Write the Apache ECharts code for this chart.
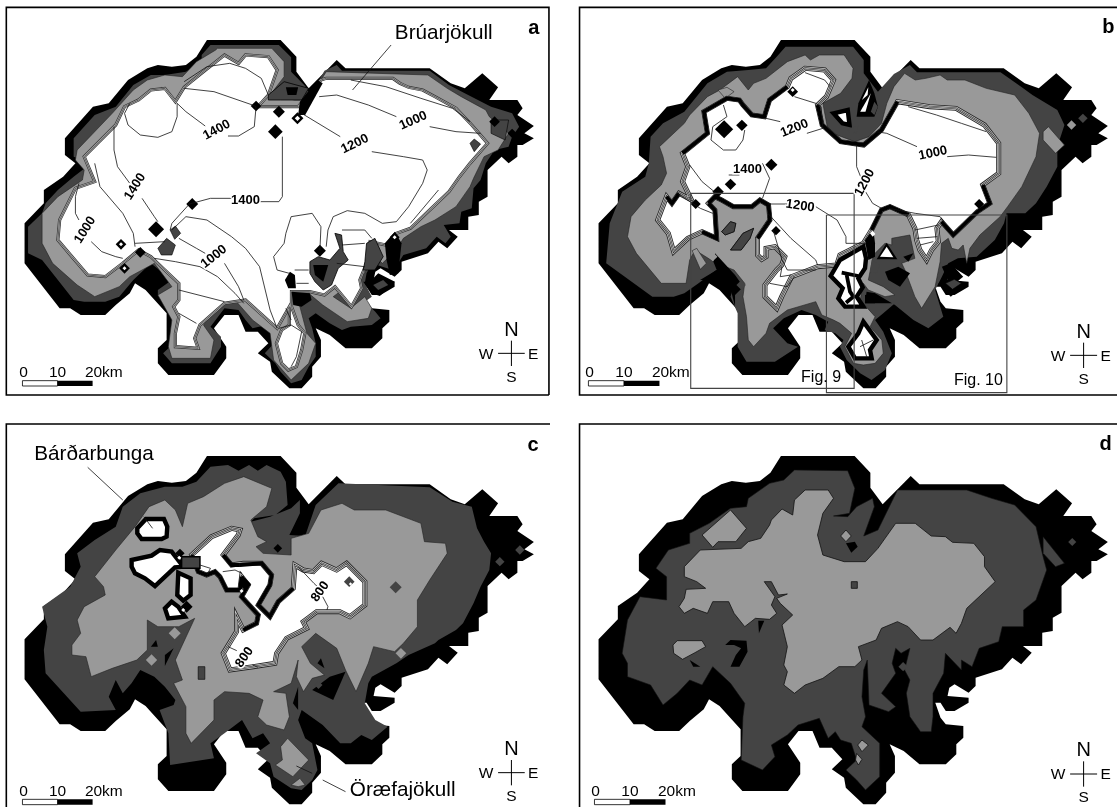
<!DOCTYPE html>
<html><head><meta charset="utf-8">
<script src="https://cdn.jsdelivr.net/npm/echarts@6/dist/echarts.min.js"></script>
<style>html,body{margin:0;padding:0;background:#fff}#c{width:1117px;height:807px}</style></head>
<body><div id="c"></div>
<script>
const BLACK='#000',DARK='#444',MID='#999',WHITE='#fff';
const outerIce=[[590,120],[800,120],[845,170],[845,215],[880,265],[960,180],[985,205],[1225,205],[1285,250],[1325,265],[1375,220],[1420,262],[1395,300],[1475,300],[1490,325],[1475,345],[1522,378],[1495,400],[1522,415],[1490,435],[1475,435],[1475,470],[1450,490],[1430,470],[1390,510],[1390,590],[1365,605],[1365,645],[1335,650],[1335,690],[1280,690],[1305,710],[1275,745],[1250,725],[1220,760],[1145,785],[1145,810],[1125,830],[1085,805],[1070,815],[1065,840],[1125,845],[1125,860],[1085,885],[1060,885],[1045,860],[1030,860],[1045,905],[1060,925],[1110,930],[1110,965],[1090,985],[1090,1015],[1060,1045],[985,1045],[940,1005],[900,985],[915,1020],[915,1070],[890,1100],[890,1130],[860,1165],[825,1165],[775,1115],[770,1085],[735,1060],[765,1030],[735,995],[700,995],[680,945],[640,945],[610,985],[645,1040],[645,1075],[610,1125],[480,1125],[450,1090],[450,1045],[475,1020],[475,940],[415,870],[385,850],[370,880],[330,915],[300,945],[230,945],[200,925],[170,925],[70,790],[70,670],[125,610],[125,570],[180,530],[215,490],[185,465],[185,415],[265,320],[310,310],[365,240],[420,205],[450,195],[490,200],[530,195],[560,170]];

// panel a
const aDark=[[600,135],[795,135],[830,172],[830,215],[870,258],[885,285],[925,212],[960,195],[975,212],[1225,212],[1280,255],[1325,280],[1400,320],[1460,340],[1480,380],[1460,410],[1450,440],[1410,450],[1385,490],[1370,540],[1350,565],[1345,625],[1315,635],[1310,670],[1265,675],[1285,710],[1270,730],[1245,710],[1215,745],[1150,765],[1135,790],[1120,810],[1090,800],[1060,790],[1045,820],[1040,850],[1060,890],[1040,905],[1070,935],[1085,955],[1060,975],[1000,980],[975,990],[940,970],[900,940],[880,955],[890,985],[900,1030],[900,1070],[880,1100],[860,1140],[830,1150],[800,1115],[785,1090],[755,1060],[790,1020],[760,975],[720,985],[700,960],[680,930],[640,925],[600,980],[630,1010],[630,1040],[600,1090],[490,1090],[465,1060],[490,1035],[490,920],[450,885],[450,870],[490,840],[430,790],[380,840],[340,890],[300,905],[240,905],[210,900],[120,780],[80,760],[80,680],[120,640],[130,610],[165,570],[210,530],[260,490],[210,470],[210,415],[270,345],[330,320],[380,255],[430,225],[470,225],[530,215],[575,185],[575,165]];
const aMid=[[620,145],[775,145],[810,185],[810,230],[770,285],[840,300],[880,300],[930,215],[1220,225],[1275,265],[1315,290],[1385,330],[1395,350],[1450,400],[1420,450],[1380,470],[1350,535],[1340,560],[1300,620],[1240,660],[1200,680],[1150,715],[1130,750],[1090,790],[1060,760],[1040,820],[950,890],[1000,925],[1040,890],[1060,925],[1050,955],[990,965],[920,915],[880,880],[850,900],[875,1000],[900,1030],[880,1090],[830,1140],[780,1080],[770,1000],[720,960],[670,900],[620,920],[580,975],[610,1020],[600,1075],[490,1075],[480,1040],[490,960],[450,885],[490,860],[440,790],[370,830],[340,860],[270,890],[220,855],[150,790],[120,730],[120,640],[165,590],[235,540],[240,510],[215,480],[220,450],[320,340],[380,270],[420,240],[470,225],[520,230],[560,185],[615,150]];
const aWhite=[[525,262],[580,215],[640,165],[680,190],[700,165],[765,170],[790,210],[765,285],[735,320],[770,320],[850,320],[915,240],[930,235],[1120,235],[1140,250],[1165,262],[1205,270],[1240,290],[1300,325],[1345,375],[1390,430],[1340,490],[1310,530],[1280,575],[1240,615],[1170,685],[1130,700],[1100,735],[1055,725],[1045,790],[1026,840],[1031,865],[1002,920],[955,860],[925,885],[883,875],[831,875],[831,920],[850,975],[869,1000],[860,1050],[845,1100],[822,1110],[803,1090],[788,1030],[803,990],[825,975],[825,920],[790,985],[700,900],[640,910],[570,975],[555,1015],[565,1045],[500,1040],[500,1000],[510,950],[495,920],[510,900],[510,850],[450,790],[430,770],[395,750],[350,790],[300,830],[250,825],[205,770],[165,720],[170,660],[215,565],[270,545],[240,470],[330,375],[355,320],[395,300],[430,270],[470,265],[500,305]];
const aDiagonal=[[855,305],[905,240],[920,250],[870,345],[850,345]];
const aNorthDark=[[765,285],[810,245],[880,265],[860,300],[800,300],[765,300]];
const aNorthBlack=[[[815,262],[850,262],[845,285],[820,285]]];
const aNotches=[[[460,260],[500,300],[490,310],[465,275]],[[360,320],[395,295],[390,335]]];
// south-east crop traces
const aSeBlack=[[[90,185],[105,195],[108,235],[85,235],[75,210]],[[95,245],[150,250],[155,270],[125,290],[100,285]],[[330,215],[355,190],[405,215],[360,258],[335,250],[310,215]],[[375,100],[405,65],[425,100],[415,190],[390,195],[380,150]],[[160,165],[205,165],[190,215],[165,195]]];
const aSeDark=[[[150,155],[175,140],[210,150],[240,115],[225,70],[245,75],[250,125],[265,150],[235,175],[215,225],[190,240],[165,215],[150,190]],[[320,100],[345,85],[370,140],[345,180],[310,180],[315,155]]];
const aSeInner=[[[340,225],[370,210],[385,225],[355,240]]];
const aDarkBits=[[[450,745],[475,715],[500,735],[490,765],[460,765]],[[485,690],[500,678],[515,700],[498,718]],[[1340,430],[1352,417],[1370,432],[1352,455]],[[1400,360],[1450,360],[1440,420],[1400,400]]];
const aDiamonds=[[795,335,18,BLACK],[785,395,22,BLACK],[548,612,18,BLACK],[912,752,18,BLACK],[730,318,16,BLACK],[848,355,18,BLACK],[1125,712,15,BLACK],[345,733,16,BLACK],[400,757,16,BLACK],[355,805,16,BLACK],[445,688,24,BLACK],[1410,365,16,BLACK],[1460,400,14,BLACK],[848,355,8,WHITE],[345,733,6,WHITE],[1125,712,6,WHITE],[355,805,6,WHITE]];
const aLines=[[[525,265],[610,275],[720,315],[730,320],[725,380],[680,408],[650,408]],[[585,378],[530,335],[505,310],[505,350],[490,395],[450,412],[400,405],[365,375],[355,340],[370,310]],[[525,245],[590,200],[655,190],[700,205],[745,235],[765,285]],[[325,380],[325,450],[335,500],[370,550]],[[405,595],[440,650],[450,665]],[[270,490],[285,560],[350,640],[380,700],[385,740]],[[225,550],[215,590],[215,640],[225,660]],[[260,725],[290,755],[330,770],[350,775]],[[540,612],[600,595],[660,595]],[[740,605],[795,605],[805,590],[805,410]],[[540,612],[490,670],[485,690]],[[490,690],[530,650],[590,660],[660,710],[700,745],[740,800],[770,930],[790,985]],[[510,715],[560,745],[585,760]],[[640,790],[680,860],[695,900]],[[440,775],[500,785],[570,800],[620,830],[670,880],[695,910]],[[385,730],[470,725]],[[510,870],[640,905]],[[510,940],[560,970]],[[860,340],[970,410]],[[1060,455],[1150,470],[1205,480],[1218,510],[1205,550],[1165,620],[1130,665],[1090,670],[1040,640],[990,632],[950,650],[935,690],[930,740]],[[910,290],[960,285],[1050,315],[1130,350]],[[1225,380],[1300,395],[1370,400]],[[1000,240],[1100,260],[1200,295],[1290,325],[1340,365]],[[912,752],[915,680],[890,640],[830,650],[815,700],[810,730],[780,770],[790,810],[825,820]],[[975,690],[1040,690],[1060,715]],[[975,735],[1040,730]],[[960,790],[1040,800]],[[795,985],[830,975],[860,995],[845,1070],[830,1100]],[[815,925],[830,960]],[[840,810],[880,810]],[[845,850],[880,850]],[[1250,570],[1170,670]]];
const aLeader=[[1115,135],[1005,270]];
const aContourLabels=[['1400',618,390,-28],['1400',385,560,-58],['1400',700,600,0],['1000',243,690,-58],['1000',610,770,-38],['1000',1178,362,-24],['1200',1012,432,-26]];

// panel b
const bDark=[[635,140],[825,140],[855,180],[855,220],[895,275],[940,222],[985,195],[1005,217],[1240,217],[1300,262],[1330,285],[1400,330],[1420,375],[1400,440],[1400,500],[1370,560],[1340,610],[1310,640],[1257,640],[1250,670],[1224,720],[1173,770],[1120,775],[1093,790],[1075,830],[1056,870],[1079,950],[1037,985],[995,960],[943,915],[887,880],[863,875],[859,910],[943,910],[910,940],[887,960],[910,995],[934,1060],[915,1110],[877,1140],[845,1120],[807,1080],[788,1040],[798,1020],[775,1000],[745,990],[755,965],[720,945],[680,930],[630,955],[600,985],[640,1030],[670,1040],[605,1085],[525,1085],[500,1040],[500,940],[480,890],[490,855],[440,810],[390,850],[350,880],[320,890],[260,890],[130,790],[140,670],[175,575],[240,530],[250,490],[255,410],[290,370],[350,335],[415,250],[470,215],[530,210],[580,205],[610,170]];
const bMid=[[640,185],[690,165],[705,180],[730,165],[800,165],[825,205],[822,235],[790,280],[740,310],[755,395],[830,425],[870,410],[905,370],[920,310],[940,260],[970,220],[1000,240],[1030,235],[1070,225],[1090,240],[1140,240],[1200,265],[1280,285],[1320,340],[1350,400],[1340,470],[1300,560],[1260,620],[1239,650],[1182,705],[1154,745],[1145,790],[1135,735],[1121,750],[1103,745],[1093,715],[1074,730],[1070,785],[1056,860],[1018,925],[999,890],[971,810],[962,790],[999,775],[985,705],[934,715],[934,735],[915,730],[882,765],[868,840],[910,860],[943,885],[915,890],[868,870],[854,850],[845,900],[887,950],[873,980],[906,1020],[910,1060],[887,1090],[854,1095],[826,1090],[802,1040],[821,1000],[788,970],[770,960],[737,945],[720,905],[640,930],[590,970],[580,1000],[545,1040],[530,1020],[525,950],[515,890],[520,850],[490,810],[440,790],[380,750],[365,780],[355,850],[285,850],[215,760],[190,710],[200,650],[240,600],[285,555],[300,520],[290,470],[280,440],[350,370],[365,345],[415,290],[450,270],[500,230],[530,270],[545,250],[580,235]];
const bWhite=[[405,335],[470,295],[505,300],[515,315],[540,345],[575,350],[590,300],[640,260],[650,235],[690,205],[745,210],[770,240],[750,290],[725,315],[738,375],[790,425],[855,435],[905,390],[950,305],[1040,320],[1115,325],[1195,375],[1235,430],[1235,520],[1190,555],[1210,610],[1175,635],[1107,705],[1074,665],[1061,685],[1065,725],[1046,750],[1032,780],[1013,750],[1004,720],[999,685],[981,645],[929,620],[905,630],[877,690],[854,730],[788,765],[779,795],[725,800],[652,830],[624,890],[610,925],[577,890],[577,855],[610,810],[624,795],[633,770],[605,740],[580,745],[580,770],[568,778],[556,765],[556,715],[591,660],[587,615],[563,600],[540,620],[488,620],[455,600],[436,590],[418,610],[436,630],[441,715],[400,695],[360,715],[320,755],[305,700],[275,660],[300,590],[315,610],[335,580],[370,600],[345,545],[360,500],[345,460],[415,400]];
const bThick=[[[345,460],[415,400],[405,335],[470,295],[505,300],[515,315],[540,345],[575,350],[590,300],[640,260]],[[725,315],[738,375],[790,425],[855,435],[905,390],[950,305]],[[418,610],[436,590],[455,600],[488,620],[540,620],[563,600],[587,615],[591,660],[556,715]],[[418,610],[436,630],[441,715],[400,695]],[[1190,555],[1210,610],[1175,635],[1107,705],[1074,665]],[[877,690],[905,630],[929,620],[981,645]],[[300,590],[315,610],[335,580]]];
const bEast=[[[770,340],[810,330],[815,375],[795,370]]];
const bEastBlack=[[[835,350],[840,310],[870,240],[885,280],[895,320],[885,350]]];
const bEastWhite=[[[845,335],[875,280],[860,335]],[[850,300],[868,262],[866,285]]];
const bEastDark=[[[885,305],[895,320],[885,345],[875,335]],[[805,390],[840,375],[835,400]]];
// traces from the crop around the south-east quarter of panel b
const bSeChain=[[60,180],[130,140],[138,175],[135,205],[115,235],[128,262],[110,290],[130,320],[75,320],[55,295],[68,265],[32,228]];
const bSeChainInner=[[[65,218],[115,228]],[[80,225],[90,275],[100,290],[78,308]]];
const bSeRing=[[130,365],[170,420],[150,450],[155,475],[105,475],[85,440],[115,400]];
const bSeBlack=[[[150,100],[135,120],[145,180],[165,170],[165,130],[162,105]],[[170,178],[200,128],[232,178]],[[195,215],[235,200],[270,220],[240,260],[205,240]],[[250,170],[280,160],[265,185]],[[135,285],[165,280],[165,310],[135,310]]];
const bSeDark=[[[155,180],[180,195],[170,220],[150,215]]];
const bSeWhite=[[[180,170],[200,140],[220,172]],[[150,100],[158,92],[166,102],[158,110]]];
const bSeLines=[[[285,90],[355,75]],[[290,115],[352,110]],[[300,135],[340,125]],[[120,440],[160,420]],[[140,470],[125,420]]];
const bBlackWedge=[[[105,190],[165,255],[190,290],[165,315],[165,350],[150,290],[80,270],[60,270],[110,240],[100,215]]];
const bDarkBits=[[[455,695],[480,665],[495,670],[490,695],[465,705]],[[480,750],[515,700],[545,685],[535,715],[510,750]],[[1085,850],[1110,838],[1130,850],[1105,868]]];
const bIslands=[[[1065,850],[1100,835],[1145,850],[1100,890]],[[1075,800],[1100,790],[1135,830],[1100,860]]];
const bMidBits=[[[1360,395],[1375,380],[1420,435],[1395,460],[1360,420]],[[445,270],[470,262],[490,275],[465,295]],[[372,752],[385,745],[412,790],[395,808]]];
const bDiamonds=[[462,388,27,BLACK],[512,376,17,BLACK],[595,494,18,BLACK],[480,553,17,BLACK],[445,575,17,BLACK],[382,612,15,BLACK],[608,692,14,BLACK],[1180,612,15,BLACK],[655,275,16,BLACK],[655,270,6,WHITE],[510,855,14,DARK],[820,395,10,DARK],[1440,375,14,MID],[1472,355,14,DARK],[430,770,14,MID]];
const bLines=[[[460,315],[470,350],[430,380],[425,420],[460,450],[495,450],[515,420],[520,390]],[[580,355],[620,365]],[[695,400],[740,385]],[[660,290],[720,310],[735,320],[740,385]],[[690,218],[745,240],[760,260]],[[890,395],[920,400],[1005,440]],[[1090,470],[1150,465],[1228,472]],[[980,320],[1060,345],[1130,370],[1200,395]],[[835,435],[835,500],[850,540]],[[860,575],[880,610],[905,625]],[[570,490],[590,535],[570,595]],[[475,525],[505,525]],[[365,495],[400,545],[440,580]],[[330,580],[395,625],[430,640]],[[585,612],[640,612]],[[720,620],[780,660],[805,710],[805,730],[860,730]],[[585,640],[650,715],[720,780],[725,795]],[[600,690],[625,780],[640,810],[720,810]],[[925,625],[1000,640],[1070,650],[1080,665]],[[625,800],[620,830],[650,825]],[[590,850],[640,860],[660,830]]];
const bFig9=[[368,580],[828,580],[828,1165],[368,1165],[368,580]];
const bFig10=[[750,645],[1258,645],[1258,1178],[750,1178],[750,645]];
const bContourLabels=[['1200',660,385,-22],['1000',1050,460,-12],['1400',528,508,0],['1200',858,548,-62],['1200',676,618,8]];

// panel c
const cDark=[[350,290],[400,250],[470,230],[520,230],[560,215],[600,170],[650,165],[680,182],[710,165],[735,182],[760,165],[800,185],[815,215],[820,285],[785,315],[725,325],[715,335],[770,320],[830,295],[855,270],[855,310],[825,375],[870,378],[900,285],[965,220],[1225,232],[1290,275],[1345,290],[1360,355],[1380,395],[1400,430],[1395,480],[1370,530],[1350,580],[1320,640],[1300,660],[1250,690],[1240,700],[1165,735],[1130,760],[1060,800],[1050,820],[1040,880],[1070,930],[1105,950],[1060,990],[1030,975],[1000,1000],[970,1000],[920,945],[860,900],[850,930],[870,985],[890,1000],[905,1080],[890,1110],[860,1140],[830,1135],[780,1100],[770,1060],[730,1030],[770,1000],[750,970],[720,985],[690,930],[640,970],[600,1000],[610,1045],[485,1065],[480,970],[455,900],[495,885],[500,870],[470,830],[440,800],[400,780],[375,820],[350,850],[330,810],[310,860],[330,900],[230,905],[130,790],[125,720],[135,650],[120,590],[200,530],[230,470],[220,430],[270,390],[330,350]];
const cMid=[[535,280],[580,260],[640,220],[695,200],[775,235],[760,290],[715,330],[735,380],[760,395],[730,410],[750,430],[830,435],[830,385],[880,370],[915,300],[975,280],[1010,300],[1100,300],[1200,340],[1210,395],[1270,400],[1275,430],[1225,510],[1190,570],[1190,650],[1150,700],[1125,725],[1065,710],[1050,760],[1015,845],[985,780],[960,715],[900,670],[860,710],[885,760],[925,795],[890,805],[865,845],[845,800],[850,750],[830,820],[780,845],[815,850],[825,920],[810,960],[760,945],[735,920],[750,870],[710,850],[640,845],[610,870],[610,930],[545,1000],[530,970],[530,890],[495,820],[520,810],[500,750],[555,625],[510,650],[450,650],[420,630],[420,720],[390,750],[320,775],[260,800],[245,740],[205,735],[205,705],[230,670],[220,630],[240,590],[300,555],[295,530],[270,500],[330,420],[385,350],[425,290],[470,270],[500,300],[520,350]];
const cMidBits=[[[820,985],[880,1050],[835,1100],[785,1065],[805,1050],[800,1010]],[[830,1125],[855,1105],[870,1125],[850,1130]]];
// traces from the crop around the central white basin of panel c
const cRing1=[[52,55],[78,27],[132,27],[142,50],[140,80],[125,87],[65,87],[52,70]];
const cRing2=[[35,150],[95,137],[120,120],[155,125],[190,170],[165,172],[105,228],[75,205],[45,190],[35,170]];
const cRing3=[[175,188],[212,205],[212,255],[190,272],[172,255]];
const cRing4=[[135,295],[155,275],[175,290],[195,320],[145,325]];
const cBasin=[[215,135],[275,80],[335,55],[360,60],[355,75],[310,135],[335,165],[370,160],[425,160],[455,195],[450,225],[415,285],[450,320],[475,275],[520,235],[525,165],[550,180],[580,185],[605,160],[650,180],[680,160],[735,215],[735,285],[690,320],[660,305],[590,305],[550,335],[560,355],[500,385],[470,430],[465,460],[400,470],[330,480],[310,430],[350,365],[350,320],[370,360],[410,340],[415,315],[365,260],[385,225],[365,200],[360,240],[320,240],[300,200],[285,185],[260,195],[235,185]];
const cThick=[[[365,200],[385,225],[365,260],[415,315],[410,340],[370,360]],[[360,165],[425,160],[455,195],[450,225],[415,285],[450,320],[475,275],[520,235]],[[310,135],[335,165],[360,165]],[[300,200],[320,240],[360,240],[365,200]],[[215,135],[235,185],[260,195],[285,185],[300,200]]];
const cStack=[[[185,140],[240,140],[240,175],[185,175]]];
const cCropDia=[[180,130,14,BLACK],[178,143,6,WHITE],[375,222,18,BLACK],[365,243,6,WHITE],[200,290,18,BLACK],[190,300,6,WHITE],[688,215,16,DARK],[692,222,5,WHITE]];
const cBlackBits=[[[890,840],[940,800],[985,785],[950,870]],[[470,735],[495,715],[470,768]],[[430,710],[445,690],[450,710]],[[835,880],[850,830],[850,900]],[[905,760],[915,745],[925,775]]];
const cDarkBits=[[[565,770],[584,770],[584,808],[565,808]]];
const cDiamonds=[[498,670,18,MID],[432,750,17,MID],[1128,532,18,DARK],[792,415,13,BLACK],[1425,455,14,DARK],[1482,420,14,DARK],[908,825,12,DARK],[1143,730,16,MID]];
const cLines=[[[850,470],[895,520],[910,535]],[[920,560],[935,590],[932,600]],[[650,710],[675,722]],[[720,765],[735,772]],[[635,485],[670,480],[690,490]],[[570,465],[600,475],[590,495]],[[410,320],[435,355]]];
const cLeader1=[[250,172],[350,270]];
const cLeader2=[[920,1110],[985,1145]];
const cLeader3=[[845,1068],[890,1090]];
const cContourLabels=[['800',913,545,-55],['800',697,742,-55]];

// panel d
const dDark=[[660,180],[810,182],[830,235],[815,310],[770,318],[810,320],[835,290],[880,265],[885,290],[855,378],[895,360],[950,240],[1145,240],[1215,265],[1280,285],[1340,350],[1360,440],[1370,480],[1340,570],[1305,600],[1305,650],[1245,650],[1235,695],[1180,715],[1160,770],[1130,750],[1130,780],[1085,730],[1080,790],[1050,850],[1050,920],[1045,965],[1015,965],[985,920],[975,850],[985,810],[970,780],[985,715],[960,730],[945,715],[935,760],[945,790],[905,850],[945,890],[925,905],[870,885],[865,750],[855,780],[850,860],[860,920],[850,950],[900,1000],[900,1100],[860,1140],[835,1110],[805,1080],[835,1050],[820,1000],[790,990],[775,965],[755,985],[730,925],[670,945],[640,975],[595,1005],[605,1040],[570,1080],[540,1065],[510,1050],[515,920],[520,880],[480,820],[430,770],[400,825],[365,810],[330,850],[290,885],[255,825],[190,800],[190,760],[175,730],[190,630],[225,560],[300,570],[300,500],[270,475],[305,420],[365,400],[365,370],[420,340],[480,295],[525,290],[530,265],[590,220],[630,210]];
const dMid=[[690,240],[755,240],[770,265],[740,310],[725,375],[740,435],[800,455],[860,455],[895,415],[945,340],[1000,340],[1045,378],[1085,380],[1105,397],[1165,400],[1195,440],[1195,470],[1225,515],[1145,595],[1130,640],[1115,670],[1098,652],[1050,690],[1015,690],[980,650],[950,635],[905,655],[890,690],[840,710],[850,750],[830,770],[785,770],[740,805],[690,825],[660,850],[630,825],[640,785],[630,765],[640,710],[625,645],[655,615],[620,580],[610,565],[640,552],[615,555],[595,515],[575,515],[605,560],[595,585],[610,610],[590,628],[550,625],[520,650],[490,610],[475,575],[430,575],[415,610],[375,595],[350,610],[335,590],[350,565],[355,538],[410,535],[385,515],[350,500],[350,470],[395,420],[510,415],[530,395],[565,385],[590,345],[595,330],[625,297],[655,315],[660,270]];
const dMidBits=[[[400,375],[480,300],[525,355],[495,395],[445,395],[430,412]],[[318,705],[330,692],[400,692],[410,710],[380,728],[345,748],[320,730]],[[790,378],[805,360],[820,378],[805,395]],[[850,990],[868,1005],[850,1025],[838,1005]],[[835,1030],[850,1048],[840,1065],[832,1050]]];
const dEastStrip=[[1360,380],[1420,460],[1395,470],[1360,430]];
const dBlackBits=[[[805,400],[830,395],[838,410],[820,428]],[[465,705],[480,690],[525,692],[528,725],[505,770],[480,770],[495,735],[510,715],[490,705]],[[365,750],[395,770],[375,770]],[[558,632],[575,632],[560,670]]];
const dDarkBits=[[[820,515],[837,515],[837,535],[820,535]]];
const dDiamonds=[[1442,396,12,DARK],[966,770,14,DARK]];

const scaleTicks=['0','10','20km'];
const compass=['N','W','E','S'];

const panels=[
 {id:'a',left:0,top:0,width:550,height:400,xMax:1568,yMax:1200},
 {id:'b',left:560,top:0,width:557,height:400,xMax:1568,yMax:1200},
 {id:'c',left:0,top:410,width:550,height:397,xMax:1568,yMax:1191},
 {id:'d',left:560,top:410,width:557,height:397,xMax:1568,yMax:1191}
];
const toB=p=>[(p[0]/2.851+14)*2.815,p[1]];
const toC=p=>[p[0],p[1]+18];
const toD=p=>[(p[0]/2.851+14)*2.815,p[1]+18];
const aSe=p=>[741+.95*p[0],630+p[1]];
const bSe=p=>[732+.938*p[0],600+p[1]];
const bNw=p=>[338+.938*p[0],570+p[1]];
const cCe=p=>[342+.95*p[0],300+p[1]];

function poly(pts,fill,stroke,lw){return {k:'poly',pts,fill,stroke,lw};}
function line(pts,color,lw){return {k:'line',pts,color,lw};}
function txt(t,x,y,size,opt){return Object.assign({k:'text',t,x,y,size},opt||{});}
function dia(d){const [x,y,r,f]=d;return poly([[x,y-r],[x+r*.95,y],[x,y+r],[x-r*.95,y]],f);}
function striped(pts,layers){return layers.map((l,i)=>poly(pts,i?null:WHITE,l[0],l[1]));}
function labels(arr){return arr.map(l=>txt(l[0],l[1],l[2],13,{rotate:l[3],halo:true,weight:'bold'}));}
function frame(x0,y0,x1,y1){return line([[x1,y1],[x1,y0],[x0,y0],[x0,y1],[x1,y1]],'#000',1.6);}
function furniture(o){
 const f=[];
 const sy=o.sy,bx=o.bx;
 f.push(poly([[bx,sy],[bx+100,sy],[bx+100,sy+16],[bx,sy+16]],WHITE,'#000',.8));
 f.push(poly([[bx+100,sy],[bx+200,sy],[bx+200,sy+16],[bx+100,sy+16]],BLACK));
 f.push(txt(scaleTicks[0],bx+3,sy-24,15.5));
 f.push(txt(scaleTicks[1],bx+100,sy-24,15.5));
 f.push(txt(scaleTicks[2],bx+232,sy-24,15.5));
 const cx=o.cx,cy=o.cy;
 f.push(line([[cx,cy-38],[cx,cy+38]],'#000',1));
 f.push(line([[cx-38,cy],[cx+38,cy]],'#000',1));
 f.push(txt(compass[0],cx,cy-70,20));
 f.push(txt(compass[1],cx-72,cy+3,15.5));
 f.push(txt(compass[2],cx+62,cy+3,15.5));
 f.push(txt(compass[3],cx,cy+72,15.5));
 return f;
}
const STRIPE=[['#222',5],['#ccc',3.4],['#222',1.9],['#ddd',.7]];
const STRIPE_A=[['#333',3.2],['#bbb',1.8],['#333',.7]];
const RING=[['#000',4.4]];
const thickLine=pts=>line(pts,'#000',3.8);

const itemsA=[poly(outerIce,BLACK),poly(aDark,DARK),poly(aMid,MID,'#222',.6),...aNotches.map(p=>poly(p,BLACK)),...aDarkBits.slice(3).map(p=>poly(p,DARK,'#000',.6)),...striped(aWhite,STRIPE_A),poly(aNorthDark,DARK,'#000',.8),...aNorthBlack.map(p=>poly(p,BLACK)),poly(aDiagonal,BLACK),...aDarkBits.slice(0,3).map(p=>poly(p,DARK,'#000',.6)),...aSeDark.map(p=>poly(p.map(aSe),DARK,'#000',.8)),...aSeBlack.map(p=>poly(p.map(aSe),BLACK)),...aSeInner.map(p=>poly(p.map(aSe),DARK)),...aDiamonds.map(dia),...aLines.map(p=>line(p,'#111',.8)),line(aLeader,'#111',.8),...labels(aContourLabels),txt('Brúarjökull',1265,100,20.7),txt('a',1522,84,20,{weight:'bold'}),frame(18,22,1565,1185),...furniture({bx:64,sy:1142,cx:1458,cy:1060})];

const itemsB=[poly(outerIce.map(toB),BLACK),poly(bDark,DARK),poly(bMid,MID,'#222',.6),...bBlackWedge.map(p=>poly(p.map(bNw),BLACK)),...bIslands.map(p=>poly(p,BLACK)),...bDarkBits.map(p=>poly(p,DARK,'#000',.6)),...bMidBits.map(p=>poly(p,MID,'#222',.6)),...striped(bWhite,STRIPE),...bThick.map(thickLine),...bEast.flatMap(p=>striped(p,RING)),...bEastBlack.map(p=>poly(p,BLACK)),...bEastWhite.map(p=>poly(p,WHITE)),...bEastDark.map(p=>poly(p,DARK)),...bDarkBits.slice(0,2).map(p=>poly(p,DARK,'#000',.6)),...bSeBlack.map(p=>poly(p.map(bSe),BLACK)),...bSeDark.map(p=>poly(p.map(bSe),DARK)),...bSeWhite.map(p=>poly(p.map(bSe),WHITE)),...striped(bSeChain.map(bSe),RING),...bSeChainInner.map(p=>thickLine(p.map(bSe))),...striped(bSeRing.map(bSe),RING),...bSeLines.map(p=>line(p.map(bSe),'#111',.8)),...bDiamonds.map(dia),...bLines.map(p=>line(p,'#111',.8)),line(bFig9,'#444',1.1),line(bFig10,'#444',1.1),...labels(bContourLabels),txt('Fig. 9',735,1133,16),txt('Fig. 10',1178,1142,16),txt('b',1544,82,20,{weight:'bold'}),line([[1568,1185],[55,1185],[55,22],[1568,22]],'#000',1.6),...furniture({bx:80,sy:1142,cx:1474,cy:1066})];

const itemsC=[poly(outerIce.map(toC),BLACK),poly(cDark,DARK),poly(cMid,MID,'#222',.6),...cMidBits.map(p=>poly(p,MID,'#222',.6)),...striped(cRing1.map(cCe),RING),...striped(cRing2.map(cCe),RING),...striped(cRing3.map(cCe),RING),...striped(cRing4.map(cCe),RING),...striped(cBasin.map(cCe),STRIPE),...cThick.map(p=>thickLine(p.map(cCe))),...cStack.map(p=>poly(p.map(cCe),DARK,'#000',1.5)),...cCropDia.map(d=>dia([cCe(d)[0],cCe(d)[1],d[2],d[3]])),...cBlackBits.map(p=>poly(p,BLACK)),...cDarkBits.map(p=>poly(p,DARK,'#000',.6)),...cDiamonds.map(dia),...cLines.map(p=>line(p,'#111',.8)),line(cLeader1,'#111',.8),line(cLeader2,'#111',.8),line(cLeader3,'#111',.8),...labels(cContourLabels),txt('Bárðarbunga',268,132,20.7),txt('Öræfajökull',1148,1142,20.7),txt('c',1520,106,20,{weight:'bold'}),line([[18,1191],[18,42],[1568,42]],'#000',1.6),...furniture({bx:64,sy:1168,cx:1458,cy:1088})];

const itemsD=[poly(outerIce.map(toD),BLACK),poly(dDark,DARK,'#111',.6),poly(dMid,MID,'#111',.8),...dMidBits.map(p=>poly(p,MID,'#111',.8)),poly(dEastStrip,DARK,'#111',.6),...dBlackBits.map(p=>poly(p,BLACK)),...dDarkBits.map(p=>poly(p,DARK,'#111',.8)),...dDiamonds.map(dia),txt('d',1536,104,20,{weight:'bold'}),line([[55,1191],[55,42],[1568,42]],'#000',1.6),...furniture({bx:97,sy:1168,cx:1474,cy:1092})];

const allItems=[itemsA,itemsB,itemsC,itemsD];

function render(items){return function(params,api){
 const it=items[api.value(0)];
 if(it.k==='poly'){return {type:'polygon',shape:{points:it.pts.map(p=>api.coord(p))},style:{fill:it.fill,stroke:it.stroke||null,lineWidth:it.lw||0,lineJoin:'miter'},silent:true};}
 if(it.k==='line'){return {type:'polyline',shape:{points:it.pts.map(p=>api.coord(p))},style:{fill:null,stroke:it.color,lineWidth:it.lw},silent:true};}
 const c=api.coord([it.x,it.y]);
 return {type:'text',x:c[0],y:c[1],rotation:-(it.rotate||0)*Math.PI/180,style:{text:it.t,fontFamily:'"Liberation Sans",Arial,sans-serif',fontSize:it.size,fontWeight:it.weight||'normal',fill:'#000',align:'center',verticalAlign:'middle',stroke:it.halo?'#fff':null,lineWidth:it.halo?3:0},silent:true};
};}
const chart=echarts.init(document.getElementById('c'),null,{renderer:'canvas'});
chart.setOption({animation:false,backgroundColor:'#fff',
 grid:panels.map(p=>({left:p.left,top:p.top,width:p.width,height:p.height,show:false})),
 xAxis:panels.map((p,i)=>({type:'value',gridIndex:i,min:0,max:p.xMax,show:false})),
 yAxis:panels.map((p,i)=>({type:'value',gridIndex:i,min:0,max:p.yMax,inverse:true,show:false})),
 series:allItems.map((items,i)=>({type:'custom',xAxisIndex:i,yAxisIndex:i,clip:false,silent:true,
   data:items.map((_,j)=>[j,0]),encode:{x:0,y:1},renderItem:render(items)}))
});
</script></body></html>
